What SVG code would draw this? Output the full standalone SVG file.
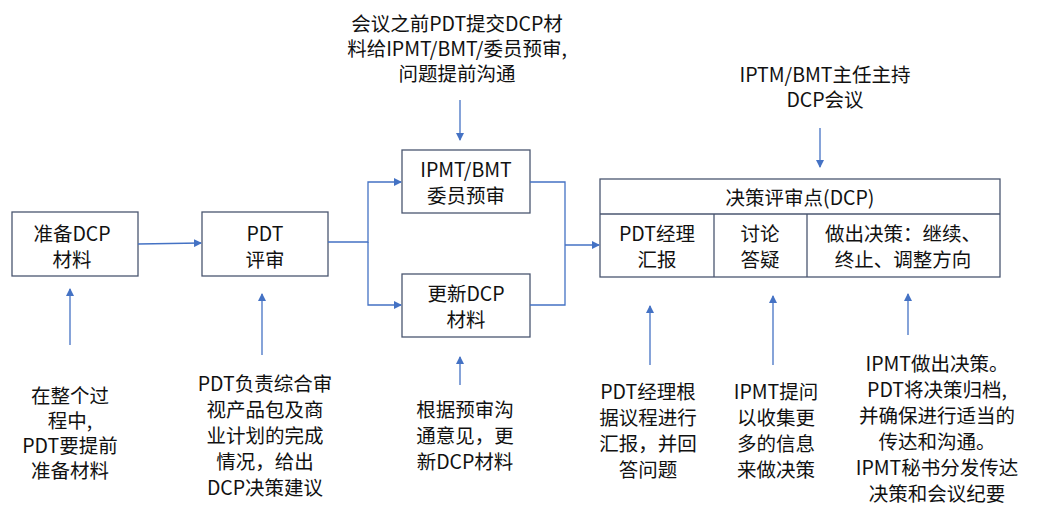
<svg xmlns="http://www.w3.org/2000/svg" width="1048" height="516" viewBox="0 0 1048 516">
<style>
.b{fill:#fff;stroke:#4a5670;stroke-width:1.3}
.t{font-family:"Noto Sans CJK SC","Liberation Sans",sans-serif;font-size:19.5px;fill:#111;text-anchor:middle}
.c{stroke:#4472c4;stroke-width:1.3;fill:none}
</style>
<defs><marker id="a" markerWidth="8" markerHeight="8" refX="7" refY="4" orient="auto" markerUnits="userSpaceOnUse"><path d="M0,0L8,4L0,8z" fill="#4472c4"/></marker></defs>
<rect width="1048" height="516" fill="#fff"/>
<g id="n1"><rect class="b" x="12" y="212" width="126" height="64"/><text class="t" x="72" y="241">准备DCP</text><text class="t" x="72" y="267">材料</text></g>
<g id="n2"><rect class="b" x="202" y="212" width="126" height="64"/><text class="t" x="265" y="241">PDT</text><text class="t" x="265" y="267">评审</text></g>
<g id="n3"><rect class="b" x="402" y="150" width="128" height="63"/><text class="t" x="466" y="177">IPMT/BMT</text><text class="t" x="466" y="203">委员预审</text></g>
<g id="n4"><rect class="b" x="402" y="274" width="128" height="63"/><text class="t" x="466" y="301">更新DCP</text><text class="t" x="466" y="327">材料</text></g>
<g id="n5"><rect class="b" x="600" y="179" width="400" height="98"/><line class="b" x1="600" y1="214" x2="1000" y2="214"/><line class="b" x1="714" y1="214" x2="714" y2="277"/><line class="b" x1="807" y1="214" x2="807" y2="277"/>
<text class="t" x="800" y="205">决策评审点(DCP)</text>
<text class="t" x="657" y="241">PDT经理</text><text class="t" x="657" y="267">汇报</text>
<text class="t" x="760" y="241">讨论</text><text class="t" x="760" y="267">答疑</text>
<text class="t" x="903" y="241">做出决策：继续、</text><text class="t" x="903" y="267">终止、调整方向</text></g>
<g id="labels">
<text class="t" x="457" y="31">会议之前PDT提交DCP材</text><text class="t" x="457" y="56">料给IPMT/BMT/委员预审,</text><text class="t" x="457" y="81">问题提前沟通</text>
<text class="t" x="825" y="82">IPTM/BMT主任主持</text><text class="t" x="825" y="107">DCP会议</text>
<text class="t" x="70" y="403">在整个过</text><text class="t" x="70" y="428">程中,</text><text class="t" x="70" y="453">PDT要提前</text><text class="t" x="70" y="478">准备材料</text>
<text class="t" x="265" y="391">PDT负责综合审</text><text class="t" x="265" y="417">视产品包及商</text><text class="t" x="265" y="443">业计划的完成</text><text class="t" x="265" y="469">情况，给出</text><text class="t" x="265" y="495">DCP决策建议</text>
<text class="t" x="465" y="417">根据预审沟</text><text class="t" x="465" y="443">通意见，更</text><text class="t" x="465" y="469">新DCP材料</text>
<text class="t" x="648" y="399">PDT经理根</text><text class="t" x="648" y="425">据议程进行</text><text class="t" x="648" y="451">汇报，并回</text><text class="t" x="648" y="477">答问题</text>
<text class="t" x="776" y="399">IPMT提问</text><text class="t" x="776" y="425">以收集更</text><text class="t" x="776" y="451">多的信息</text><text class="t" x="776" y="477">来做决策</text>
<text class="t" x="937" y="371">IPMT做出决策。</text><text class="t" x="937" y="397">PDT将决策归档,</text><text class="t" x="937" y="423">并确保进行适当的</text><text class="t" x="937" y="449">传达和沟通。</text><text class="t" x="937" y="475">IPMT秘书分发传达</text><text class="t" x="937" y="501">决策和会议纪要</text>
</g>
<g id="connectors">
<line class="c" x1="138" y1="244" x2="201" y2="243" marker-end="url(#a)"/>
<path class="c" d="M328,242H368V182H401" marker-end="url(#a)"/>
<path class="c" d="M368,242V305H401" marker-end="url(#a)"/>
<path class="c" d="M530,182H565V305H530"/>
<line class="c" x1="565" y1="245" x2="599" y2="245" marker-end="url(#a)"/>
<line class="c" x1="460" y1="100" x2="460" y2="140" marker-end="url(#a)"/>
<line class="c" x1="820" y1="128" x2="820" y2="167" marker-end="url(#a)"/>
<line class="c" x1="70" y1="345" x2="70" y2="289" marker-end="url(#a)"/>
<line class="c" x1="262" y1="355" x2="262" y2="294" marker-end="url(#a)"/>
<line class="c" x1="460" y1="385" x2="460" y2="357" marker-end="url(#a)"/>
<line class="c" x1="650" y1="365" x2="650" y2="306" marker-end="url(#a)"/>
<line class="c" x1="773" y1="365" x2="773" y2="296" marker-end="url(#a)"/>
<line class="c" x1="908" y1="335" x2="908" y2="294" marker-end="url(#a)"/>
</g>
</svg>
